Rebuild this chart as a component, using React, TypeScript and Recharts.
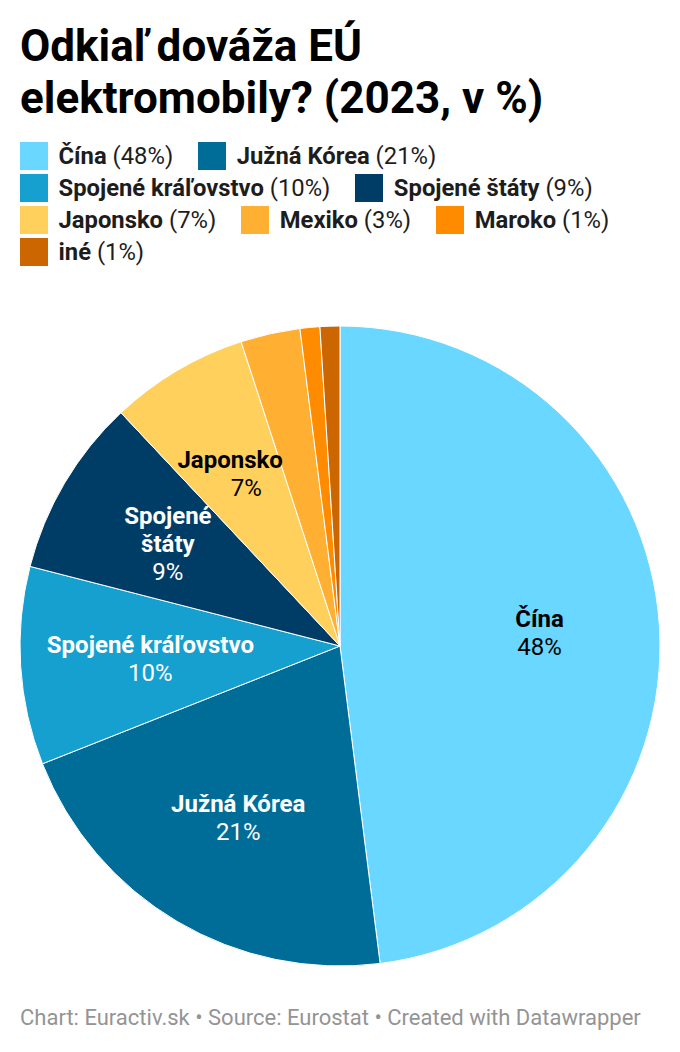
import React from 'react';
import { PieChart, Pie, Cell } from 'recharts';

const categories = ['Čína', 'Južná Kórea', 'Spojené kráľovstvo', 'Spojené štáty', 'Japonsko', 'Mexiko', 'Maroko', 'iné'];
const shares = [48, 21, 10, 9, 7, 3, 1, 1];
const colors = ['#69d7ff', '#006d99', '#16a0cf', '#003d66', '#ffd15c', '#ffb033', '#ff8c00', '#cc6600'];
const labelColors = ['#000000', '#ffffff', '#ffffff', '#ffffff', '#000000'];
// wrapped name lines, only the slices big enough to carry a label
const labelLines = [['Čína'], ['Južná Kórea'], ['Spojené kráľovstvo'], ['Spojené', 'štáty'], ['Japonsko']];
const legendRows = [[0, 1], [2, 3], [4, 5, 6], [7]];

const data = categories.map((name, i) => ({ name, value: shares[i] }));
const FONT = 'Roboto, sans-serif';

// small nudges so the long labels stay where the reference has them
const nameShift: Record<number, number> = { 2: 10, 4: -8 };
const valueShift: Record<number, number> = { 2: 10, 4: 8 };

const renderLabel = (props: any) => {
    const { cx, cy, midAngle, outerRadius, index, value } = props;
    const lines = labelLines[index];
    if (!lines) return null;
    const RAD = Math.PI / 180;
    const r = outerRadius * 0.625;
    const x = cx + r * Math.cos(-midAngle * RAD);
    const y = cy + r * Math.sin(-midAngle * RAD);
    const lineHeight = 28;
    const top = y - ((lines.length + 1) * lineHeight) / 2 + 22;
    const nameX = x + (nameShift[index] || 0);
    const valueX = x + (valueShift[index] || 0);
    return (
        <text x={x} y={top} textAnchor="middle" fontFamily={FONT} fontSize={24} fill={labelColors[index]}>
            {lines.map((l: string, i: number) => (
                <tspan key={l} x={nameX} y={top + i * lineHeight} fontWeight={700}>{l}</tspan>
            ))}
            <tspan x={valueX} y={top + lines.length * lineHeight}>{value}%</tspan>
        </text>
    );
};

export default function App() {
    return (
        <div style={{ position: 'absolute', left: 0, top: 0, width: 680, height: 1052, background: '#fff', overflow: 'hidden', fontFamily: FONT }}>
            <div style={{ position: 'absolute', left: 20, top: 20, fontSize: 44, lineHeight: '52px', fontWeight: 700, color: '#000', width: 640 }}>
                Odkia<span style={{ letterSpacing: -3 }}>ľ</span> dováža EÚ<br />elektromobily? (2023, v %)
            </div>
            <div style={{ position: 'absolute', left: 20, top: 140 }}>
                {legendRows.map((row, r) => (
                    <div key={r} style={{ display: 'flex', height: 32, alignItems: 'center' }}>
                        {row.map((c) => (
                            <div key={c} style={{ display: 'flex', alignItems: 'center', marginRight: 25 }}>
                                <div style={{ width: 28, height: 28, background: colors[c], marginRight: 10.5 }} />
                                <span style={{ fontSize: 23.8, color: '#1d1d1d', whiteSpace: 'nowrap' }}>
                                    <b>{categories[c]}</b> ({shares[c]}%)
                                </span>
                            </div>
                        ))}
                    </div>
                ))}
            </div>
            <div style={{ position: 'absolute', left: 0, top: 0 }}>
                <PieChart width={680} height={1052} margin={{ top: 0, right: 0, bottom: 0, left: 0 }}>
                    <Pie
                        data={data}
                        dataKey="value"
                        nameKey="name"
                        cx={340}
                        cy={646}
                        innerRadius={0}
                        outerRadius={320}
                        startAngle={90}
                        endAngle={-270}
                        stroke="#ffffff"
                        strokeWidth={1}
                        label={renderLabel}
                        labelLine={false}
                        isAnimationActive={false}
                    >
                        {data.map((d, i) => (
                            <Cell key={d.name} fill={colors[i]} />
                        ))}
                    </Pie>
                </PieChart>
            </div>
            <div style={{ position: 'absolute', left: 20, top: 1005, fontSize: 22, lineHeight: '26px', color: '#949494', whiteSpace: 'nowrap' }}>
                Chart: Euractiv.sk • Source: Eurostat • Created with Datawrapper
            </div>
        </div>
    );
}
